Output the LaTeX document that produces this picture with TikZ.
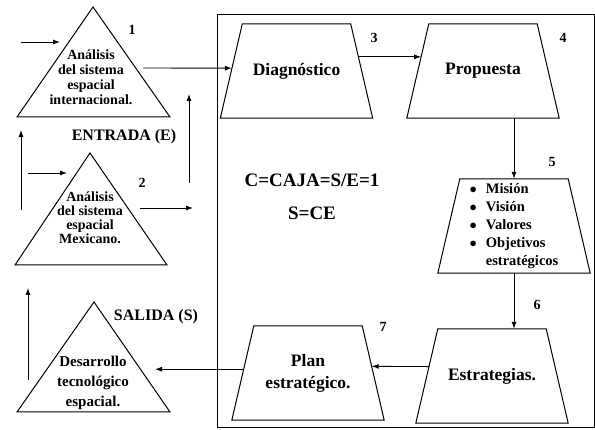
\documentclass[tikz,border=0pt]{standalone}
\usepackage{fontspec}
\setmainfont{Liberation Serif}
\usetikzlibrary{arrows.meta,calc}
\tikzset{
  trapbox/.style={minimum width=152pt, minimum height=94pt, inner sep=0pt, align=center,
    font=\bfseries\fontsize{17.5}{22}\selectfont},
  tri/.style={draw, line width=1pt, line join=miter},
  tritext/.style={align=center, font=\bfseries\fontsize{14}{15}\selectfont},
  etiq/.style={font=\bfseries\fontsize{14}{16}\selectfont},
  flecha/.style={-{Latex[length=7pt,width=5pt]}, line width=0.9pt}
}
\newcommand{\trapecio}[1]{%
  \coordinate (#1-tl) at ([xshift=22pt]#1.north west);
  \coordinate (#1-tr) at ([xshift=-22pt]#1.north east);
  \draw[line width=1pt] (#1.south west)--(#1-tl)--(#1-tr)--(#1.south east)--cycle;}
\begin{document}
\begin{tikzpicture}[x=1pt,y=-1pt]
\useasboundingbox (0,0) rectangle (595,430);
\draw[line width=1pt] (217,15) rectangle (594,428);
\draw[tri] (93,7)--(170,117)--(17,117)--cycle;
\draw[tri] (90,153)--(167,265)--(15,265)--cycle;
\draw[tri] (94,302)--(170,412)--(17,412)--cycle;
\node[tritext] (t1) at (91,77) {Análisis\\del sistema\\espacial\\internacional.};
\node[tritext, font=\bfseries\fontsize{14}{14}\selectfont] (t2) at (90,218) {Análisis\\del sistema\\espacial\\Mexicano.};
\node[tritext, font=\bfseries\fontsize{15}{20}\selectfont] (t3) at (93,383) {Desarrollo\\tecnológico\\espacial.};
\node[font=\bfseries\fontsize{16}{18}\selectfont] (ent) at (124,137) {ENTRADA (E)};
\node[font=\bfseries\fontsize{16}{18}\selectfont] (sal) at (156,317) {SALIDA (S)};
\node[font=\bfseries\fontsize{19}{22}\selectfont] (caja) at (312,180) {C=CAJA=S/E=1};
\node[font=\bfseries\fontsize{19}{22}\selectfont] (sce) at (312,213) {S=CE};
\node[trapbox] (dia) at (296.5,71) {Diagnóstico};
\node[trapbox] (prop) at (483,71) {\raisebox{5pt}{Propuesta}};
\node[trapbox, font=\bfseries\fontsize{14.5}{18}\selectfont] (mvv) at (514,226)
  {\begin{tabular}{@{}l@{\hspace{9pt}}l@{}}
   $\bullet$ & Misión\\ $\bullet$ & Visión\\ $\bullet$ & Valores\\
   $\bullet$ & Objetivos\\ & estratégicos\end{tabular}};
\node[trapbox] (est) at (492,376) {Estrategias.};
\node[trapbox] (plan) at (308,373) {Plan\\estratégico.};
\trapecio{dia}
\trapecio{prop}
\trapecio{mvv}
\trapecio{est}
\trapecio{plan}
\node[etiq] (n1) at (132,30) {1};
\node[etiq] (n2) at (142,183) {2};
\node[etiq] (n3) at (374,38) {3};
\node[etiq] (n4) at (563,38) {4};
\node[etiq] (n5) at (552,162) {5};
\node[etiq] (n6) at (537,305) {6};
\node[etiq] (n7) at (383,327) {7};
\coordinate (in1) at (21,42);
\coordinate (in1b) at (60,42);
\coordinate (in2) at (28,173);
\coordinate (in2b) at (67,173);
\coordinate (izq) at (21,210);
\coordinate (izqb) at (21,130);
\coordinate (med) at (189,183);
\coordinate (medb) at (189,94);
\coordinate (t2out) at (140,208);
\coordinate (t2outb) at (193,208);
\coordinate (t1out) at (143,68);
\coordinate (t3in) at (155,369);
\coordinate (sal1) at (28,380);
\coordinate (sal1b) at (28,288);
\draw[flecha] (in1)--(in1b);
\draw[flecha] (in2)--(in2b);
\draw[flecha] (izq)--(izqb);
\draw[flecha] (med)--(medb);
\draw[flecha] (t2out)--(t2outb);
\draw[flecha] (sal1)--(sal1b);
\draw[flecha] (t1out)--($(dia-tl)!0.47!(dia.south west)$);
\draw[flecha] ($(dia-tr)!0.35!(dia.south east)$)--($(prop-tl)!0.35!(prop.south west)$);
\draw[flecha] (prop.south -| mvv.north)--(mvv.north);
\draw[flecha] (mvv.south)--(mvv.south |- est.north);
\draw[flecha] ($(est-tl)!0.4!(est.south west)$)--($(plan-tr)!0.43!(plan.south east)$);
\coordinate (p1) at ($(plan-tl)!0.46!(plan.south west)$);
\draw[flecha] (p1)--(p1 -| t3in);
\end{tikzpicture}
\end{document}
